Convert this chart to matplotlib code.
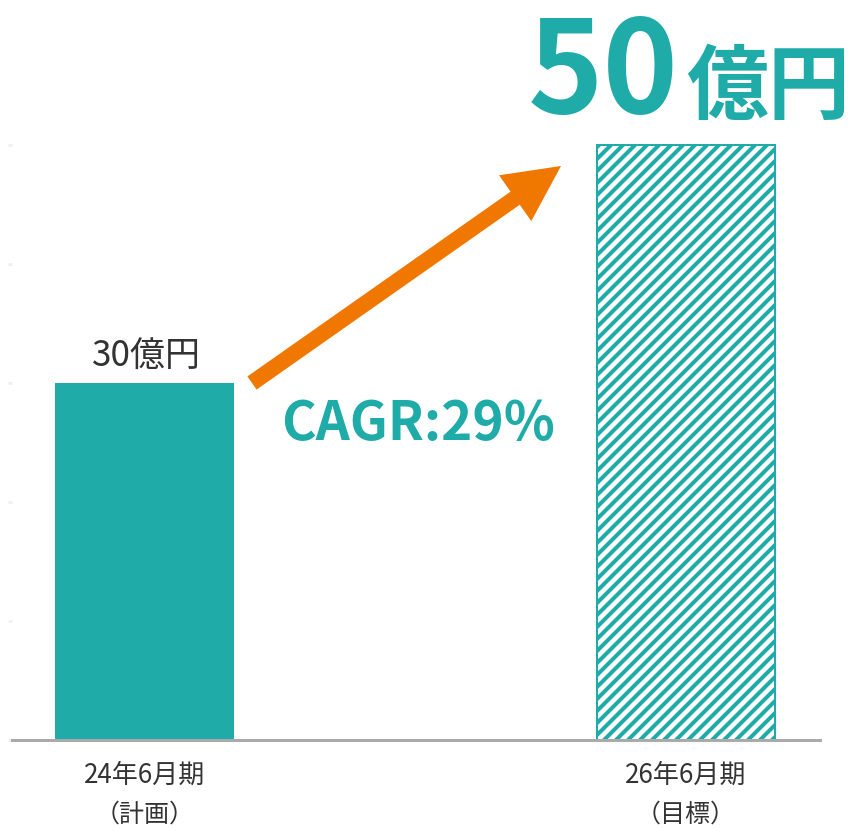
import matplotlib
matplotlib.use("Agg")
import matplotlib.pyplot as plt
from matplotlib.patches import FancyArrow

plt.rcParams['font.family'] = ['Noto Sans CJK JP', 'DejaVu Sans']
plt.rcParams['hatch.linewidth'] = 4.0

# ---- data ----
periods = ["24年6月期", "26年6月期"]
kinds = ["（計画）", "（目標）"]
values = [30, 50]
unit = "億円"
cagr_label = "CAGR:29%"

TEAL = "#1FABA8"
ORANGE = "#F07800"
DARK = "#333333"

W, H, DPI = 852, 830, 72
fig = plt.figure(figsize=(W / DPI, H / DPI), dpi=DPI)

# axes placement in pixels
ax_left, ax_right, ax_top, ax_bottom = 12, 820, 10, 740
ax = fig.add_axes([ax_left / W, 1 - ax_bottom / H,
                   (ax_right - ax_left) / W, (ax_bottom - ax_top) / H])

x = [0, 1]
bw = 0.33
ax.bar(x[0], values[0], width=bw, color=TEAL, linewidth=0)
ax.bar(x[1], values[1], width=bw, facecolor="white", edgecolor=TEAL,
       hatch="//", linewidth=2)

ax.set_xlim(-0.2447, 1.2475)
ax.set_ylim(0, 61.34)

for s in ["top", "right", "left"]:
    ax.spines[s].set_visible(False)
ax.spines["bottom"].set_color("#AAAAAA")
ax.spines["bottom"].set_linewidth(3)

ax.set_yticks([0, 10, 20, 30, 40, 50])
ax.set_yticklabels([])
ax.tick_params(axis="y", length=4, width=3, color="#F0F0F0")
ax.set_xticks([])

# category labels (two lines)
def ax_y(py):
    return (ax_bottom - py) / (ax_bottom - ax_top)

for xi, p, k in zip(x, periods, kinds):
    ax.text(xi, ax_y(775), p, transform=ax.get_xaxis_transform(),
            ha="center", va="center", fontsize=26, color=DARK, clip_on=False)
    ax.text(xi, ax_y(815), k, transform=ax.get_xaxis_transform(),
            ha="center", va="center", fontsize=25, color=DARK, clip_on=False)

# value label above first bar
ax.annotate(f"{values[0]}{unit}", xy=(x[0], values[0]), xytext=(2, 16),
            textcoords="offset points", ha="center", va="baseline",
            fontsize=35, color=DARK)

# big target label
fig.text(679 / W, 1 - 113 / H, f"{values[1]}", ha="right", va="baseline",
         fontsize=128, fontweight="bold", color=TEAL)
fig.text(686 / W, 1 - 113 / H, unit, ha="left", va="baseline",
         fontsize=82, fontweight="bold", color=TEAL)

# CAGR label
fig.text(418 / W, 1 - 440 / H, cagr_label, ha="center", va="baseline",
         fontsize=53, fontweight="bold", color=TEAL)

# arrow (pixel coordinates, y measured from top)
tail = (252, 383)
tip = (561, 166)
arr = FancyArrow(tail[0], H - tail[1], tip[0] - tail[0], -(tip[1] - tail[1]),
                 width=16, head_width=56, head_length=56,
                 length_includes_head=True, color=ORANGE, linewidth=0,
                 transform=None)
fig.patches.append(arr)

fig.savefig("out.png", dpi=DPI, facecolor="white")
